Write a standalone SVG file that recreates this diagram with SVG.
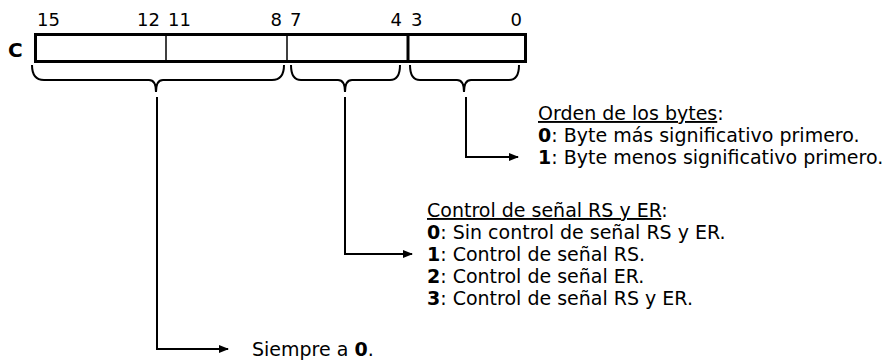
<svg xmlns="http://www.w3.org/2000/svg" width="888" height="361" viewBox="0 0 888 361">
<defs>
<style>
text{font-family:"DejaVu Sans","Verdana",sans-serif;font-size:19px;fill:#000}
.n{font-size:18px}
.b{font-weight:bold}
.u{text-decoration:underline}
.ln{fill:none;stroke:#000;stroke-width:2}
.br{fill:none;stroke:#000;stroke-width:2}
</style>
<marker id="ah" markerWidth="10" markerHeight="8" refX="9" refY="4" orient="auto" markerUnits="userSpaceOnUse">
<path d="M0,0 L10,4 L0,8 Z" fill="#000"/>
</marker>
</defs>
<g id="register">
<text class="n" x="37" y="26">15</text>
<text class="n" x="160" y="26" text-anchor="end">12</text>
<text class="n" x="168" y="26">11</text>
<text class="n" x="282" y="26" text-anchor="end">8</text>
<text class="n" x="290" y="26">7</text>
<text class="n" x="402" y="26" text-anchor="end">4</text>
<text class="n" x="411" y="26">3</text>
<text class="n" x="522" y="26" text-anchor="end">0</text>
<text x="8" y="57" class="b" style="font-size:20px">C</text>
<rect x="35.5" y="34.5" width="490" height="27" fill="#fff" stroke="#000" stroke-width="3"/>
<line x1="166" y1="35" x2="166" y2="61" stroke="#000" stroke-width="1.5"/>
<line x1="287" y1="35" x2="287" y2="61" stroke="#000" stroke-width="1.5"/>
<line x1="408" y1="35" x2="408" y2="61" stroke="#000" stroke-width="3"/>
</g>
<g id="braces">
<path class="br" d="M32,65 Q32,80 44,80 L149,80 Q156,80 156,92 Q156,80 163,80 L272,80 Q284,80 284,65"/>
<path class="br" d="M291,65 Q291,80 301,80 L338,80 Q345,80 345,92 Q345,80 352,80 L390,80 Q400,80 400,65"/>
<path class="br" d="M410,65 Q410,80 420,80 L457,80 Q464,80 464,92 Q464,80 471,80 L509,80 Q519,80 519,65"/>
</g>
<g id="connectors">
<polyline class="ln" points="157,97 157,349 228,349" marker-end="url(#ah)"/>
<polyline class="ln" points="345,97 345,254 412,254" marker-end="url(#ah)"/>
<polyline class="ln" points="466,97 466,157 518,157" marker-end="url(#ah)"/>
</g>
<g id="byte-order">
<text x="538" y="120"><tspan class="u">Orden de los bytes</tspan>:</text>
<text x="538" y="142"><tspan class="b">0</tspan>: Byte más significativo primero.</text>
<text x="538" y="164"><tspan class="b">1</tspan>: Byte menos significativo primero.</text>
</g>
<g id="rs-er">
<text x="427" y="217"><tspan class="u">Control de señal RS y ER</tspan>:</text>
<text x="427" y="239"><tspan class="b">0</tspan>: Sin control de señal RS y ER.</text>
<text x="427" y="261"><tspan class="b">1</tspan>: Control de señal RS.</text>
<text x="427" y="283"><tspan class="b">2</tspan>: Control de señal ER.</text>
<text x="427" y="305"><tspan class="b">3</tspan>: Control de señal RS y ER.</text>
</g>
<g id="always-zero">
<text x="252" y="356">Siempre a <tspan class="b">0</tspan>.</text>
</g>
</svg>
